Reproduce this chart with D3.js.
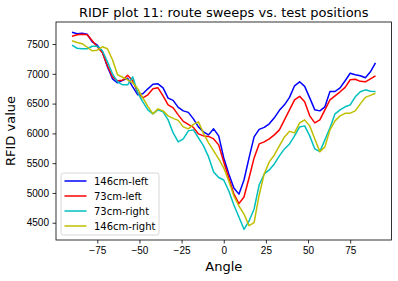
<html>
<head>
<meta charset="utf-8">
<script src="https://d3js.org/d3.v7.min.js"></script>
<style>
body { margin: 0; background: white; }
svg { font-family: "DejaVu Sans", sans-serif; }
.tick text { font-size: 10px; fill: #000; }
.tick line { stroke: #000; stroke-width: 0.8; }
</style>
</head>
<body>
<svg width="398" height="281"></svg>
<script>
// angles swept, one reading every 3 degrees
var angles = d3.range(-90, 91, 3);

var left146 = [7698, 7673, 7681, 7665, 7538, 7480, 7370, 7118, 6916, 6849, 6891, 6925, 6782, 6647, 6664, 6748, 6824, 6832, 6765, 6592, 6555,
    6437, 6378, 6353, 6244, 6109, 6025, 5975, 6076, 5958, 5588, 5319, 5083, 4980, 5218, 5588, 5941, 6067, 6101, 6160, 6261,
    6387, 6479, 6605, 6799, 6866, 6790, 6597, 6395, 6378, 6446, 6703, 6703, 6765, 6883, 7009, 6984, 6967, 6933, 7034, 7185];
var left73 = [7631, 7656, 7665, 7656, 7555, 7454, 7354, 7135, 6950, 6883, 6891, 6975, 6883, 6681, 6597, 6647, 6748, 6765, 6630, 6479, 6429,
    6311, 6202, 6151, 6101, 5991, 5958, 5949, 5907, 5807, 5521, 5252, 4983, 4820, 4932, 5252, 5588, 5823, 5857, 5907, 5975,
    6059, 6227, 6395, 6563, 6622, 6530, 6294, 6176, 6227, 6395, 6563, 6630, 6698, 6773, 6900, 6908, 6874, 6866, 6916, 6967];
var right73 = [7480, 7429, 7421, 7421, 7463, 7463, 7387, 7202, 7000, 6866, 6815, 6815, 6950, 6681, 6530, 6395, 6328, 6395, 6361, 6227, 6008,
    5857, 5907, 6042, 6059, 5924, 5790, 5605, 5353, 5260, 5218, 5033, 4798, 4596, 4390, 4529, 4730, 5134, 5319, 5386, 5487,
    5622, 5739, 5823, 5958, 6109, 6126, 5958, 5739, 5694, 5891, 6092, 6328, 6395, 6446, 6479, 6614, 6698, 6731, 6706, 6703];
var right146 = [7555, 7525, 7505, 7446, 7387, 7396, 7454, 7421, 7236, 6984, 6942, 6900, 6849, 6748, 6597, 6454, 6328, 6412, 6378, 6294, 6252,
    6218, 6109, 6076, 6151, 6193, 6000, 5840, 5706, 5571, 5420, 5201, 4949, 4781, 4646, 4450, 4500, 4966, 5319, 5521, 5638,
    5790, 5941, 6034, 6008, 6176, 6227, 6126, 5907, 5694, 5773, 6059, 6210, 6294, 6336, 6340, 6378, 6496, 6605, 6639, 6673];

var seriesNames = ["146cm-left", "73cm-left", "73cm-right", "146cm-right"];
var seriesValues = [left146, left73, right73, right146];
var colors = ["#0000ff", "#ff0000", "#00bfbf", "#bfbf00"];

var xTicks = [-75, -50, -25, 0, 25, 50, 75];
var yTicks = [4500, 5000, 5500, 6000, 6500, 7000, 7500];

var plotLeft = 56, plotRight = 391.5, plotTop = 22, plotBottom = 240;

var x = d3.scaleLinear().domain([-99.5, 99.5]).range([plotLeft, plotRight]);
var y = d3.scaleLinear().domain([4210, 7870]).range([plotBottom, plotTop]);

var svg = d3.select("svg");

var line = d3.line()
    .x(function(d, i) { return x(angles[i]); })
    .y(function(d) { return y(d); });

svg.append("g")
    .selectAll("path")
    .data(seriesValues)
    .enter()
    .append("path")
    .attr("d", line)
    .attr("fill", "none")
    .attr("stroke", function(d, i) { return colors[i]; })
    .attr("stroke-width", 1.5)
    .attr("stroke-linejoin", "round");

var xAxis = svg.append("g")
    .attr("transform", "translate(0," + plotBottom + ")")
    .call(d3.axisBottom(x).tickValues(xTicks).tickSize(3.5).tickPadding(3.5));
var yAxis = svg.append("g")
    .attr("transform", "translate(" + plotLeft + ",0)")
    .call(d3.axisLeft(y).tickValues(yTicks).tickSize(3.5).tickPadding(3.5).tickFormat(d3.format("d")));
xAxis.select(".domain").remove();
yAxis.select(".domain").remove();

// frame
svg.append("rect")
    .attr("x", plotLeft)
    .attr("y", plotTop)
    .attr("width", plotRight - plotLeft)
    .attr("height", plotBottom - plotTop)
    .attr("fill", "none")
    .attr("stroke", "#000")
    .attr("stroke-width", 0.8);

svg.append("text")
    .attr("x", (plotLeft + plotRight) / 2)
    .attr("y", 17)
    .attr("text-anchor", "middle")
    .attr("font-size", "13px")
    .text("RIDF plot 11: route sweeps vs. test positions");

svg.append("text")
    .attr("x", (plotLeft + plotRight) / 2)
    .attr("y", 271)
    .attr("text-anchor", "middle")
    .attr("font-size", "13px")
    .text("Angle");

svg.append("text")
    .attr("transform", "translate(15," + (plotTop + plotBottom) / 2 + ") rotate(-90)")
    .attr("text-anchor", "middle")
    .attr("font-size", "13px")
    .text("RFID value");

// legend
var legend = svg.append("g").attr("transform", "translate(61,173)");
legend.append("rect")
    .attr("width", 98)
    .attr("height", 62)
    .attr("rx", 2.5)
    .attr("fill", "white")
    .attr("fill-opacity", 0.8)
    .attr("stroke", "#cccccc")
    .attr("stroke-width", 0.8);

var items = legend.selectAll(".item")
    .data(seriesNames)
    .enter()
    .append("g")
    .attr("class", "item")
    .attr("transform", function(d, i) { return "translate(0," + (8 + i * 15) + ")"; });
items.append("line")
    .attr("x1", 3.5)
    .attr("x2", 25.5)
    .attr("stroke", function(d, i) { return colors[i]; })
    .attr("stroke-width", 1.5);
items.append("text")
    .attr("x", 33)
    .attr("y", 3.5)
    .attr("font-size", "10px")
    .text(function(d) { return d; });
</script>
</body>
</html>
